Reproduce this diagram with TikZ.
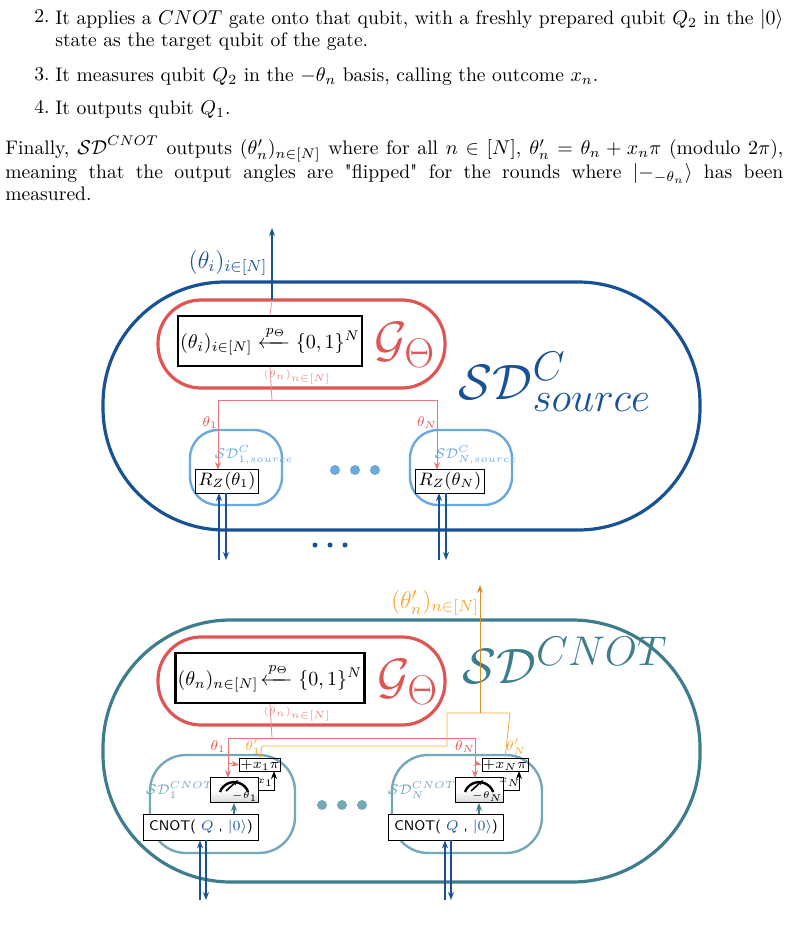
\documentclass[tikz,border=0pt]{standalone}
\usepackage{amsmath,amssymb}
\usetikzlibrary{arrows.meta,positioning}
\definecolor{navy}{rgb}{0.10,0.32,0.58}
\definecolor{gred}{rgb}{0.88,0.33,0.33}
\definecolor{lblue}{rgb}{0.42,0.66,0.87}
\definecolor{teal}{rgb}{0.24,0.49,0.55}
\definecolor{lteal}{rgb}{0.45,0.66,0.72}
\definecolor{orng}{rgb}{0.98,0.66,0.20}
\begin{document}
\begin{tikzpicture}[x=0.5pt, y=-0.5pt, >={Stealth[length=4pt]}]
    \tikzstyle{pill}=[line width=1.6pt]
    \tikzstyle{sub_pill}=[line width=1.2pt, rounded corners=14pt]
    \tikzstyle{gen_box}=[draw, line width=1.1pt, minimum width=82pt, minimum height=25pt, inner sep=1pt]
    \tikzstyle{gate_box}=[draw, thin, inner sep=1.5pt, font=\small]
    \tikzstyle{qwire}=[navy, thick]
    \tikzstyle{body_text}=[inner sep=0pt, font=\fontsize{9.8}{11}\selectfont]
    \useasboundingbox (0,0) rectangle (788,941);

    % --- text above the pictures ---
    \node[body_text, anchor=north west, text width=364pt, align=justify] (item2) at (55,9)
      {It applies a $CNOT$ gate onto that qubit, with a freshly prepared qubit $Q_2$ in the $|0\rangle$ state as the target qubit of the gate.};
    \node[body_text, anchor=north east] (num2) at (50,9) {2.};
    \node[body_text, anchor=north west] (item3) at (55,67) {It measures qubit $Q_2$ in the $-\theta_n$ basis, calling the outcome $x_n$.};
    \node[body_text, anchor=north east] (num3) at (50,67) {3.};
    \node[body_text, anchor=north west] (item4) at (55,100) {It outputs qubit $Q_1$.};
    \node[body_text, anchor=north east] (num4) at (50,100) {4.};
    \node[body_text, anchor=north west, text width=389pt, align=justify] (final) at (5,136)
      {Finally, $\mathcal{SD}^{CNOT}$ outputs $(\theta'_n)_{n\in[N]}$ where for all $n\in[N]$, $\theta'_n=\theta_n+x_n\pi$ (modulo~$2\pi$), meaning that the output angles are \textquotedbl flipped\textquotedbl\ for the rounds where $|-_{-\theta_n}\rangle$ has been\linebreak measured.};

    % --- (a) source ---
    \draw[pill, navy, rounded corners=61pt] (103,282) rectangle (700,530);
    \draw[pill, gred, rounded corners=21.5pt] (158,300) rectangle (445,388);
    \draw[->, navy, thick] (272,300) -- (272,228);
    \node[navy, font=\large] (thout) at (228,263) {$(\theta_i)_{i\in[N]}$};
    \node[gen_box, fill=white] (genA) at (270,341) {$(\theta_i)_{i\in[N]}\xleftarrow{\raisebox{1pt}{$\scriptstyle p_\Theta$}}\{0,1\}^N$};
    \draw[gred!60] (272,300) -- (genA.north);
    \node[gred, font=\Huge] (GA) at (405,345) {$\mathcal{G}_\Theta$};
    \node[navy, font=\fontsize{30}{30}\selectfont] (SDA) at (555,382) {$\mathcal{SD}^C_{source}$};
    \draw[sub_pill, lblue] (190,430) rectangle (282,505);
    \draw[sub_pill, lblue] (410,430) rectangle (512,505);
    \node[lblue, font=\scriptsize] (sd1) at (254,455) {$\mathcal{SD}^C_{1,source}$};
    \node[lblue, font=\scriptsize] (sdN) at (476,455) {$\mathcal{SD}^C_{N,source}$};
    \node[gate_box, fill=white] (rz1) at (227,481) {$R_Z(\theta_1)$};
    \node[gate_box, fill=white] (rzN) at (450,481) {$R_Z(\theta_N)$};
    \draw[gred!70] (genA.south) -- (272,400) coordinate (splitA);
    \node[gred!70, font=\tiny] (tnA) at (297,377) {$(\theta_n)_{n\in[N]}$};
    \draw[->, gred!80] (splitA) -| (218,470);
    \draw[->, gred!80] (splitA) -| (437,470);
    \node[gred, font=\scriptsize] (t1A) at (210,423) {$\theta_1$};
    \node[gred, font=\scriptsize] (tNA) at (427,423) {$\theta_N$};
    \foreach \x in {335,355,375} \fill[lblue] (\x,470) circle (5);
    \foreach \x in {315,330,345} \fill[navy] (\x,545) circle (2.5);
    \foreach \x in {219,439} {
      \draw[->, qwire] (\x,560) -- (\x,493);
      \draw[->, qwire] (\x+7,493) -- (\x+7,560);
    }

    % --- (b) CNOT ---
    \draw[pill, teal, rounded corners=64pt] (103,620) rectangle (700,882);
    \draw[pill, gred, rounded corners=21.5pt] (158,637) rectangle (445,725);
    \node[gen_box] (genB) at (270,678) {$(\theta_n)_{n\in[N]}\!\xleftarrow{\raisebox{1pt}{$\scriptstyle p_\Theta$}}\{0,1\}^N$};
    \node[gred, font=\Huge] (GB) at (408,682) {$\mathcal{G}_\Theta$};
    \node[teal, font=\fontsize{30}{30}\selectfont] (SDB) at (565,660) {$\mathcal{SD}^{CNOT}$};
    \draw[sub_pill, lteal, rounded corners=18pt] (150,755) rectangle (295,853);
    \draw[sub_pill, lteal, rounded corners=18pt] (392,755) rectangle (542,853);
    \node[lteal, font=\scriptsize] (sdB1) at (180,790) {$\mathcal{SD}_1^{CNOT}$};
    \node[lteal, font=\scriptsize] (sdBN) at (422,790) {$\mathcal{SD}_N^{CNOT}$};
    \foreach \i/\x/\lab in {1/0/1,N/245/N} {
      \node[gate_box, minimum width=24pt, minimum height=12.5pt, top color=white, bottom color=black!15, middle color=white] (meas\i) at (234+\x,790) {};
      \draw[very thick] ([shift={(-14,2)}]meas\i.center) arc[start angle=200, end angle=340, radius=15];
      \draw[thick, -{Stealth[length=3pt]}] ([shift={(-8,1)}]meas\i.center) -- ([shift={(4,-10)}]meas\i.center);
      \node[font=\tiny, anchor=south east, inner sep=0.3pt] (mlab\i) at (meas\i.south east) {$-\theta_{\lab}$};
      \node[gate_box, font=\scriptsize, inner sep=0.5pt] (flip\i) at (260+\x,765) {$+x_{\lab}\pi$};
      \node[draw, fill=white, font=\sffamily\scriptsize, inner sep=3pt] (cnot\i) at (201+\x,827) {CNOT( \textcolor{navy}{$Q$} , \textcolor{navy}{$|0\rangle$})};
      \draw[->, teal, thick] (meas\i.south |- cnot\i.north) -- (meas\i.south);
      \draw[->] (meas\i.east) -| (274+\x,771);
      \node[font=\tiny, inner sep=0.3pt, anchor=south] (xl\i) at (265+\x,787) {$x_{\lab}$};
      \draw[->, qwire] (200+\x,900) -- (cnot\i.south -| 200+\x,0);
      \draw[->, qwire] (cnot\i.south -| 206+\x,0) -- (206+\x,900);
    }
    \draw[gred!70] (genB.south) -- (272,738) coordinate (splitB);
    \node[gred!70, font=\tiny] (tnB) at (297,714) {$(\theta_n)_{n\in[N]}$};
    \draw[->, gred!80] (splitB) -| (228,778);
    \draw[->, gred!80] (splitB) -| (475,778);
    \draw[->, gred!80] (228,763) -- (flip1.west);
    \draw[->, gred!80] (475,763) -- (flipN.west);
    \draw[orng] (flip1.north) -- (262,746) -| (447,713) -- (510,713) -- (flipN.north);
    \draw[->, orng!85!black] (480,713) -- (480,585);
    \node[orng, font=\large] (thpout) at (435,603) {$(\theta'_n)_{n\in[N]}$};
    \node[gred, font=\scriptsize] (t1B) at (218,747) {$\theta_1$};
    \node[orng, font=\scriptsize] (tp1B) at (253,747) {$\theta'_1$};
    \node[gred, font=\scriptsize] (tNB) at (465,747) {$\theta_N$};
    \node[orng, font=\scriptsize] (tpNB) at (516,747) {$\theta'_N$};
    \foreach \x in {322,342,362} \fill[lteal] (\x,805) circle (5);
\end{tikzpicture}
\end{document}
